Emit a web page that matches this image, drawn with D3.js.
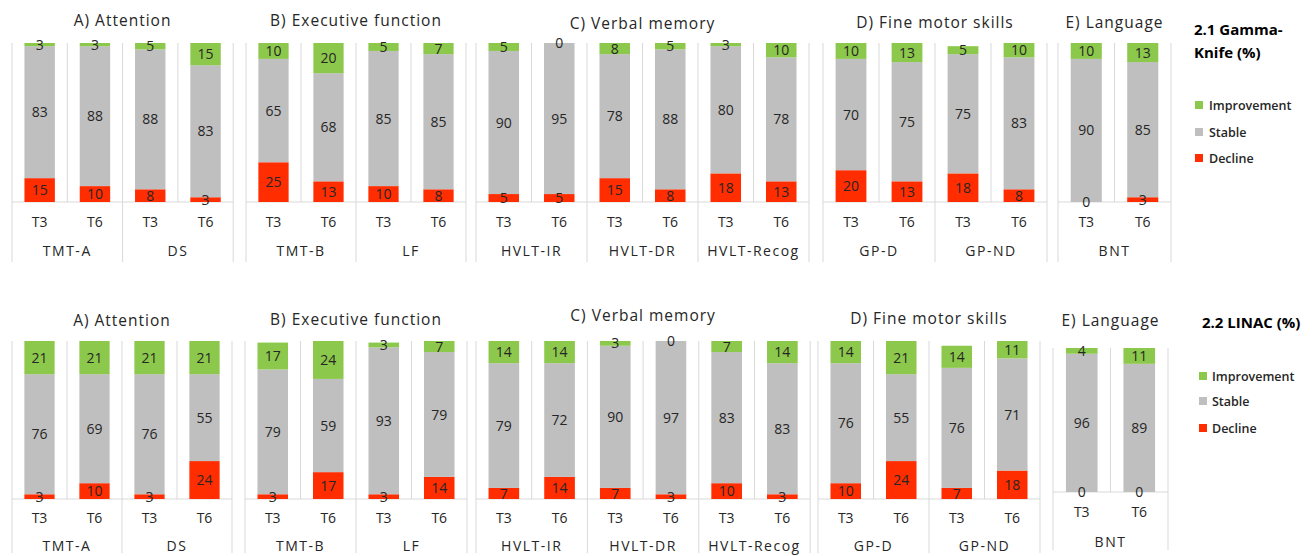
<!DOCTYPE html>
<html>
<head>
<meta charset="utf-8">
<script src="https://cdn.jsdelivr.net/npm/d3@7/dist/d3.min.js"></script>
<style>
  html, body { margin: 0; padding: 0; background: #fff; }
  svg { display: block; }
  text { font-family: "Open Sans", "Noto Sans", sans-serif; fill: #262626; }
</style>
</head>
<body>
<svg id="chart" width="1315" height="556"></svg>
<script>
// ---------- data ----------
const measures = ["Improvement", "Stable", "Decline"];
const timepoints = ["T3", "T6"];
const domains = ["A) Attention", "B) Executive function", "C) Verbal memory", "D) Fine motor skills", "E) Language"];
const tests = [["TMT-A", "DS"], ["TMT-B", "LF"], ["HVLT-IR", "HVLT-DR", "HVLT-Recog"], ["GP-D", "GP-ND"], ["BNT"]];
const rowTitles = [["2.1 Gamma-", "Knife (%)"], ["2.2 LINAC (%)"]];

// values per bar, order: test x timepoint (T3, T6), domains A..E
const gkImprovement    = [3, 3, 5, 15,   10, 20, 5, 7,   5, 0, 8, 5, 3, 10,   10, 13, 5, 10,   10, 13];
const gkStable         = [83, 88, 88, 83, 65, 68, 85, 85, 90, 95, 78, 88, 80, 78, 70, 75, 75, 83, 90, 85];
const gkDecline        = [15, 10, 8, 3,   25, 13, 10, 8,  5, 5, 15, 8, 18, 13,  20, 13, 18, 8,    0, 3];

const linacImprovement = [21, 21, 21, 21, 17, 24, 3, 7,   14, 14, 3, 0, 7, 14,  14, 21, 14, 11,  4, 11];
const linacStable      = [76, 69, 76, 55, 79, 59, 93, 79, 79, 72, 90, 97, 83, 83, 76, 55, 76, 71, 96, 89];
const linacDecline     = [3, 10, 3, 24,   3, 17, 3, 14,   7, 14, 7, 3, 10, 3,    10, 24, 7, 18,   0, 0];

// ---------- styling / layout ----------
const colors = { Improvement: "#8cc84b", Stable: "#bfbfbf", Decline: "#ff2d00" };
const gridColor = "#d9d9d9";

const rowsLayout = [
  { top: 43, base: 202, tY: 222, gY: 251, lineBottom: 262,
    panels: [
      { left: 12,   slot: 55.3, titleY: 20 },
      { left: 246,  slot: 55,   titleY: 20 },
      { left: 476,  slot: 55.5, titleY: 23 },
      { left: 823,  slot: 56,   titleY: 22 },
      { left: 1058, slot: 56.5, titleY: 22 }
    ],
    legend: { titleX: 1194, titleY: [30, 53], boxX: 1195, textX: 1209, itemY: [105, 132, 158] } },
  { top: 341, base: 499, tY: 518, gY: 546, lineBottom: 553,
    panels: [
      { left: 12,   slot: 55,   titleY: 320 },
      { left: 245,  slot: 55.5, titleY: 319 },
      { left: 476,  slot: 55.7, titleY: 315 },
      { left: 818,  slot: 55.5, titleY: 318 },
      { left: 1053, slot: 57.5, titleY: 320, top: 348, base: 492, tY: 512, gY: 542, lineBottom: 550 }
    ],
    legend: { titleX: 1202, titleY: [323], boxX: 1199, textX: 1212, itemY: [376, 401, 428] } }
];

const rowsData = [
  { Improvement: gkImprovement, Stable: gkStable, Decline: gkDecline },
  { Improvement: linacImprovement, Stable: linacStable, Decline: linacDecline }
];

const svg = d3.select("#chart");
const stack = d3.stack().keys(["Decline", "Stable", "Improvement"]);

rowsLayout.forEach((row, ri) => {
  const data = rowsData[ri];
  let idx = 0;
  domains.forEach((dom, di) => {
    const p = Object.assign({}, row, row.panels[di]);
    const groupTests = tests[di];
    const bars = [];
    groupTests.forEach(t => timepoints.forEach(tp => {
      bars.push({ id: t + "|" + tp, test: t, tp: tp,
        Improvement: data.Improvement[idx], Stable: data.Stable[idx], Decline: data.Decline[idx] });
      idx++;
    }));
    const n = bars.length;
    const right = p.left + n * p.slot;
    const x = d3.scaleBand().domain(bars.map(b => b.id)).range([p.left, right])
      .paddingInner(0.45).paddingOuter(0.225);
    const y = d3.scaleLinear().domain([0, 100]).range([p.base, p.top]).clamp(true);
    const g = svg.append("g");

    // gridlines / separators
    for (let k = 0; k <= n; k++) {
      const xx = p.left + k * p.slot;
      const isGroup = (k % 2 === 0);
      g.append("line").attr("x1", xx).attr("x2", xx)
        .attr("y1", p.top).attr("y2", isGroup ? p.lineBottom : p.base)
        .attr("stroke", gridColor).attr("stroke-width", 1);
    }
    g.append("line").attr("x1", p.left).attr("x2", right)
      .attr("y1", p.base).attr("y2", p.base)
      .attr("stroke", gridColor).attr("stroke-width", 1);

    // stacked bars
    const series = stack(bars);
    series.forEach(s => {
      g.selectAll(null).data(s).enter().append("rect")
        .attr("x", d => x(d.data.id))
        .attr("width", x.bandwidth())
        .attr("y", d => y(d[1]))
        .attr("height", d => Math.max(0, y(d[0]) - y(d[1])))
        .attr("fill", colors[s.key]);
    });
    series.forEach(s => {
      g.selectAll(null).data(s).enter().append("text")
        .attr("x", d => x(d.data.id) + x.bandwidth() / 2)
        .attr("y", d => (y(d[0]) + y(d[1])) / 2)
        .attr("dy", "0.36em")
        .attr("text-anchor", "middle")
        .style("font-size", "14px")
        .text(d => d.data[s.key]);
    });

    // axis labels
    g.selectAll(null).data(bars).enter().append("text")
      .attr("x", d => x(d.id) + x.bandwidth() / 2)
      .attr("y", p.tY).attr("dy", "0.36em")
      .attr("text-anchor", "middle")
      .style("font-size", "14px")
      .text(d => d.tp);
    groupTests.forEach((t, ti) => {
      g.append("text")
        .attr("x", p.left + (ti * 2 + 1) * p.slot)
        .attr("y", p.gY).attr("dy", "0.36em")
        .attr("text-anchor", "middle")
        .style("font-size", "14px").style("letter-spacing", "1.5px")
        .text(t);
    });

    // panel title
    g.append("text")
      .attr("x", (p.left + right) / 2)
      .attr("y", p.titleY).attr("dy", "0.36em")
      .attr("text-anchor", "middle")
      .style("font-size", "15.5px").style("letter-spacing", "1px")
      .text(dom);
  });

  // legend
  const L = row.legend;
  rowTitles[ri].forEach((t, i) => {
    svg.append("text").attr("x", L.titleX).attr("y", L.titleY[i]).attr("dy", "0.36em")
      .style("font-size", "15px").style("font-weight", "bold").style("fill", "#000")
      .text(t);
  });
  measures.forEach((m, i) => {
    svg.append("rect").attr("x", L.boxX).attr("y", L.itemY[i] - 4).attr("width", 8).attr("height", 8)
      .attr("fill", colors[m]);
    svg.append("text").attr("x", L.textX).attr("y", L.itemY[i]).attr("dy", "0.36em")
      .style("font-size", "12.5px").style("font-weight", "600")
      .text(m);
  });
});
</script>
</body>
</html>
